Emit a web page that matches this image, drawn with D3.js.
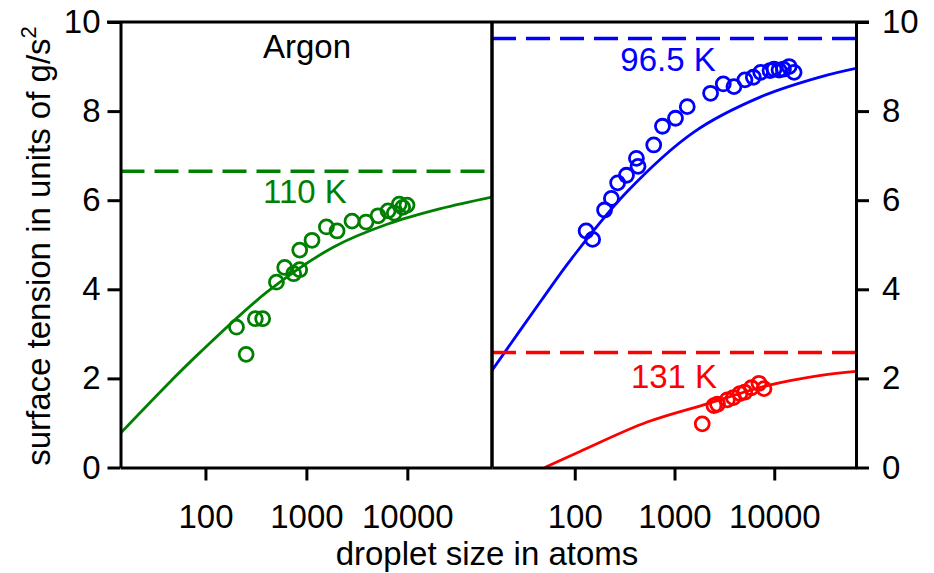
<!DOCTYPE html>
<html><head><meta charset="utf-8">
<script src="https://d3js.org/d3.v7.min.js"></script>
<style>body{margin:0;background:#fff}text{font-family:"Liberation Sans",Arial,sans-serif}</style>
</head><body><svg id="c" width="934" height="573"></svg>
<script>
// ---- data ----
const xTicks = [100, 1000, 10000];
const yTicks = [0, 2, 4, 6, 8, 10];
// Argon 110 K (left panel)
const g110N = [203, 253, 312, 369, 505, 610, 748, 859, 859, 1137, 1578, 2013, 2832, 3900, 5130, 6440, 7430, 8320, 8990, 9930];
const g110S = [3.15, 2.54, 3.34, 3.34, 4.16, 4.49, 4.35, 4.44, 4.88, 5.10, 5.40, 5.31, 5.53, 5.51, 5.65, 5.76, 5.71, 5.91, 5.84, 5.89];
const fit110N = [14.4, 46.3, 89, 408, 1864, 6300, 21300, 69000];
const fit110S = [0.77, 1.96, 2.59, 3.94, 4.95, 5.46, 5.81, 6.07];
const bulk110 = 6.65;
// Argon 96.5 K (right panel)
const g965N = [130, 151, 199, 233, 269, 330, 415, 431, 619, 757, 1023, 1342, 2300, 3083, 3945, 5080, 6170, 7310, 9070, 9950, 11170, 12360, 14090, 15810];
const g965S = [5.31, 5.12, 5.78, 6.04, 6.39, 6.56, 6.94, 6.76, 7.24, 7.66, 7.84, 8.10, 8.40, 8.61, 8.55, 8.70, 8.76, 8.87, 8.91, 8.94, 8.92, 8.94, 9.00, 8.87];
const fit965N = [14.8, 46.5, 93, 334, 1563, 7310, 29300, 66000];
const fit965S = [2.18, 3.76, 4.69, 6.19, 7.53, 8.32, 8.77, 8.96];
const bulk965 = 9.63;
// Argon 131 K (right panel)
const g131N = [1897, 2485, 2700, 3390, 3890, 4530, 5060, 5900, 7030, 7890];
const g131S = [0.98, 1.39, 1.42, 1.52, 1.57, 1.66, 1.69, 1.79, 1.89, 1.77];
const fit131N = [50, 113, 532, 2130, 8530, 29300, 66000];
const fit131S = [0.0, 0.36, 1.02, 1.43, 1.84, 2.07, 2.16];
const bulk131 = 2.58;

// ---- layout ----
const svg = d3.select("#c");
const yTop = 22, yBot = 467.5;
const y = d3.scaleLinear().domain([0, 10]).range([yBot, yTop]);
const xL = d3.scaleLog().domain([14.4, 69000]).range([120.5, 492]);
const xR = d3.scaleLog().domain([14.8, 66000]).range([492, 856]);
const GREEN = "#008000", BLUE = "#0000ff", RED = "#ff0000";
const FS = 33;
const FF = "Liberation Sans, Arial, sans-serif";

const defs = svg.append("defs");
defs.append("clipPath").attr("id", "cl").append("rect").attr("x", 120.5).attr("y", yTop).attr("width", 492 - 120.5).attr("height", yBot - yTop);
defs.append("clipPath").attr("id", "cr").append("rect").attr("x", 492).attr("y", yTop).attr("width", 856 - 492).attr("height", yBot - yTop);

function zip(a, b) { return a.map((v, i) => [v, b[i]]); }

function panel(x, clip, sets) {
  const g = svg.append("g").attr("clip-path", `url(#${clip})`);
  const [x0, x1] = x.range();
  sets.forEach(s => {
    g.append("line").attr("x1", x0).attr("x2", x1).attr("y1", y(s.bulk)).attr("y2", y(s.bulk))
      .attr("stroke", s.color).attr("stroke-width", 3.5).attr("stroke-dasharray", "24,10");
    const line = d3.line().x(d => x(d[0])).y(d => y(d[1])).curve(d3.curveCatmullRom.alpha(0.5));
    g.append("path").attr("d", line(zip(s.fitN, s.fitS))).attr("fill", "none")
      .attr("stroke", s.color).attr("stroke-width", 2.8);
    g.selectAll(null).data(zip(s.N, s.S)).enter().append("circle")
      .attr("cx", d => x(d[0])).attr("cy", d => y(d[1])).attr("r", 7)
      .attr("fill", "none").attr("stroke", s.color).attr("stroke-width", 2.8);
  });
  const ax = svg.append("g").attr("transform", `translate(0,${yBot})`)
    .call(d3.axisBottom(x).tickValues(xTicks).tickFormat(d3.format("d")).tickSize(13).tickSizeOuter(0));
  ax.select(".domain").attr("stroke-width", 3);
  ax.selectAll(".tick line").attr("stroke-width", 3);
  ax.selectAll(".tick text").attr("font-size", FS).attr("font-family", FF)
    .attr("y", 60).attr("dy", 0).attr("fill", "#000");
}

panel(xL, "cl", [{ N: g110N, S: g110S, fitN: fit110N, fitS: fit110S, bulk: bulk110, color: GREEN }]);
panel(xR, "cr", [
  { N: g965N, S: g965S, fitN: fit965N, fitS: fit965S, bulk: bulk965, color: BLUE },
  { N: g131N, S: g131S, fitN: fit131N, fitS: fit131S, bulk: bulk131, color: RED }
]);

// y axes
const ayL = svg.append("g").attr("transform", "translate(120.5,0)")
  .call(d3.axisLeft(y).tickValues(yTicks).tickSize(13).tickSizeOuter(0));
const ayR = svg.append("g").attr("transform", "translate(856,0)")
  .call(d3.axisRight(y).tickValues(yTicks).tickSize(13).tickSizeOuter(0));
[ayL, ayR].forEach(a => {
  a.select(".domain").attr("stroke-width", 3);
  a.selectAll(".tick line").attr("stroke-width", 3);
  a.selectAll(".tick text").attr("font-size", FS).attr("font-family", FF).attr("fill", "#000");
});
ayL.selectAll(".tick text").attr("x", -20);
ayR.selectAll(".tick text").attr("x", 26);
// divider
svg.append("line").attr("x1", 492).attr("x2", 492).attr("y1", yTop).attr("y2", yBot).attr("stroke", "#000").attr("stroke-width", 3.5);
// top border over both panels and outer tick marks
svg.append("line").attr("x1", 107).attr("x2", 869).attr("y1", yTop).attr("y2", yTop).attr("stroke", "#000").attr("stroke-width", 3);

// labels
svg.append("text").attr("x", 307).attr("y", 58).attr("text-anchor", "middle").attr("font-size", FS).text("Argon");
svg.append("text").attr("x", 305).attr("y", 203).attr("text-anchor", "middle").attr("font-size", FS).attr("fill", GREEN).text("110 K");
svg.append("text").attr("x", 668).attr("y", 71).attr("text-anchor", "middle").attr("font-size", FS).attr("fill", BLUE).text("96.5 K");
svg.append("text").attr("x", 674).attr("y", 388).attr("text-anchor", "middle").attr("font-size", FS).attr("fill", RED).text("131 K");

// axis titles
svg.append("text").attr("x", 487).attr("y", 565).attr("text-anchor", "middle").attr("font-size", FS).text("droplet size in atoms");
const yt = svg.append("text").attr("transform", "translate(50,246) rotate(-90)").attr("text-anchor", "middle").attr("font-size", FS);
yt.append("tspan").text("surface tension in units of g/s");
yt.append("tspan").attr("font-size", 22).attr("dy", -14).text("2");
</script></body></html>
